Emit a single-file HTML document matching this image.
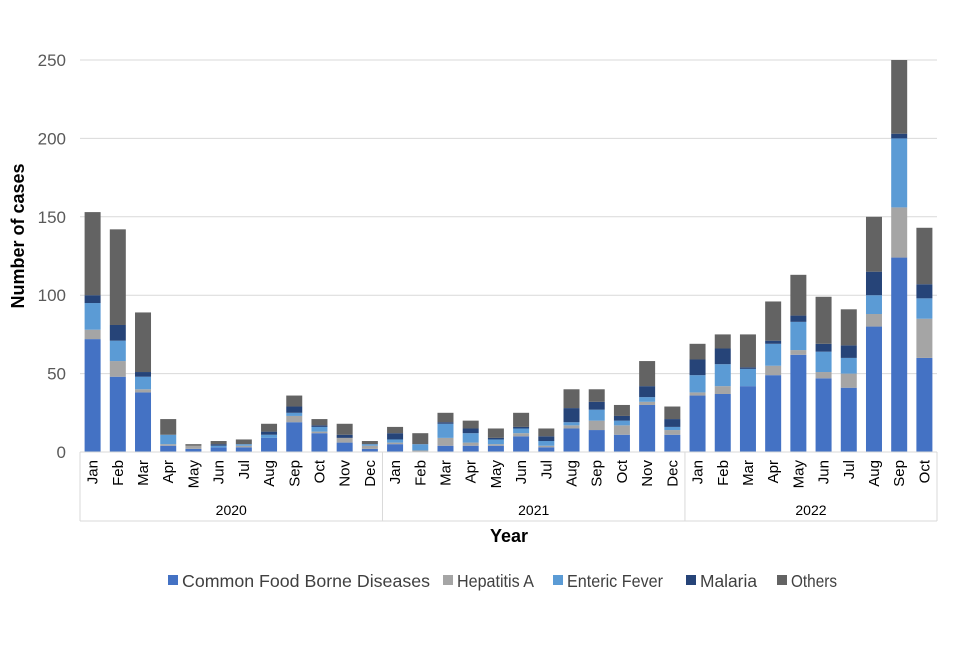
<!DOCTYPE html>
<html><head><meta charset="utf-8"><style>
body{margin:0;background:#fff;font-family:"Liberation Sans",Arial,sans-serif}
</style></head><body>
<svg id="chart" width="960" height="640" xmlns="http://www.w3.org/2000/svg" font-family="Liberation Sans, Arial, sans-serif">
<g id="grid"></g><g id="bars"></g><g id="axes"></g>
<text transform="translate(24,236) rotate(-90)" text-anchor="middle" font-size="18" font-weight="bold" fill="#000">Number of cases</text>
<text x="509" y="542" text-anchor="middle" font-size="18" font-weight="bold" fill="#000">Year</text>
<g font-size="17.5" fill="#404040">
<rect x="168" y="575" width="10" height="10" fill="#4472c4"/><text x="182" y="587" textLength="248" lengthAdjust="spacingAndGlyphs">Common Food Borne Diseases</text>
<rect x="443" y="575" width="10" height="10" fill="#a5a5a5"/><text x="457" y="587" textLength="77" lengthAdjust="spacingAndGlyphs">Hepatitis A</text>
<rect x="553" y="575" width="10" height="10" fill="#5b9bd5"/><text x="567" y="587" textLength="96" lengthAdjust="spacingAndGlyphs">Enteric Fever</text>
<rect x="686" y="575" width="10" height="10" fill="#264478"/><text x="700" y="587" textLength="57" lengthAdjust="spacingAndGlyphs">Malaria</text>
<rect x="777" y="575" width="10" height="10" fill="#636363"/><text x="791" y="587" textLength="46" lengthAdjust="spacingAndGlyphs">Others</text>
</g>
</svg>
<script>
const months=["Jan","Feb","Mar","Apr","May","Jun","Jul","Aug","Sep","Oct","Nov","Dec","Jan","Feb","Mar","Apr","May","Jun","Jul","Aug","Sep","Oct","Nov","Dec","Jan","Feb","Mar","Apr","May","Jun","Jul","Aug","Sep","Oct"];
const years=["2020","2021","2022"];
const yearCounts=[12,12,10];
const seriesNames=["Common Food Borne Diseases","Hepatitis A","Enteric Fever","Malaria","Others"];
const cfb=[72,48,38,4,2,3,3,9,19,12,6,2, 5,0,4,4,4,10,3,15,14,11,30,11, 36,37,42,49,62,47,41,80,124,60];
const hepA=[6,10,2,1,2,0,1,0,4,1,3,2, 1,1,5,2,1,2,1,2,6,6,2,3, 2,5,0,6,3,4,9,8,32,25];
const enteric=[17,13,8,6,0,1,1,2,2,3,0,1, 2,4,9,6,3,3,3,2,7,3,3,2, 11,14,11,14,18,13,10,12,44,13];
const malaria=[5,10,3,0,0,1,0,2,4,1,2,0, 4,0,1,3,1,1,3,9,5,3,7,5, 10,10,1,2,4,5,8,15,3,9];
const others=[53,61,38,10,1,2,3,5,7,4,7,2, 4,7,6,5,6,9,5,12,8,7,16,8, 10,9,21,25,26,30,23,35,47,36];
const yTicks=[0,50,100,150,200,250];
const colors=["#4472c4","#a5a5a5","#5b9bd5","#264478","#636363"];
const series=[cfb,hepA,enteric,malaria,others];
const NS="http://www.w3.org/2000/svg";
const x0=80,x1=937,y0=452,yTop=60,yMax=250;
const step=(x1-x0)/months.length;
const yS=v=>y0-(v/yMax)*(y0-yTop);
const xC=i=>x0+step*(i+0.5);
function mk(tag,attrs,parent){const e=document.createElementNS(NS,tag);for(const k in attrs)e.setAttribute(k,attrs[k]);parent.appendChild(e);return e;}
const grid=document.getElementById('grid'),bars=document.getElementById('bars'),axes=document.getElementById('axes');
yTicks.forEach(t=>{
 if(t>0){const l=mk('line',{x1:x0,x2:x1,y1:yS(t),y2:yS(t),stroke:'#d9d9d9','stroke-width':1},grid);
 
 }
 const tx=mk('text',{x:66,y:yS(t)+6,'text-anchor':'end','font-size':17,fill:'#595959'},axes);
 tx.textContent=t;
 
 
});
months.forEach((m,i)=>{
 let acc=0;
 series.forEach((s,k)=>{
  const v=s[i];if(v<=0)return;
  const r=mk('rect',{x:xC(i)-8,y:yS(acc+v),width:16,height:yS(acc)-yS(acc+v),fill:colors[k]},bars);
  
  
  acc+=v;
 });
 const t=mk('text',{transform:`translate(${xC(i)+5},460) rotate(-90)`,'text-anchor':'end','font-size':15,fill:'#000'},axes);
 t.textContent=m;
 
 
});
mk('line',{x1:x0,x2:x1,y1:y0,y2:y0,stroke:'#d9d9d9'},axes);
mk('line',{x1:x0,x2:x1,y1:521,y2:521,stroke:'#d9d9d9'},axes);
let start=0;
mk('line',{x1:x0,x2:x0,y1:y0,y2:521,stroke:'#d9d9d9'},axes);
years.forEach((y,j)=>{
 const end=start+yearCounts[j];
 const xe=x0+step*end;
 mk('line',{x1:xe,x2:xe,y1:y0,y2:521,stroke:'#d9d9d9'},axes);
 const t=mk('text',{x:(x0+step*start+xe)/2,y:515,'text-anchor':'middle','font-size':14,fill:'#000'},axes);
 t.textContent=y;
 
 
 start=end;
});
</script>
</body></html>
